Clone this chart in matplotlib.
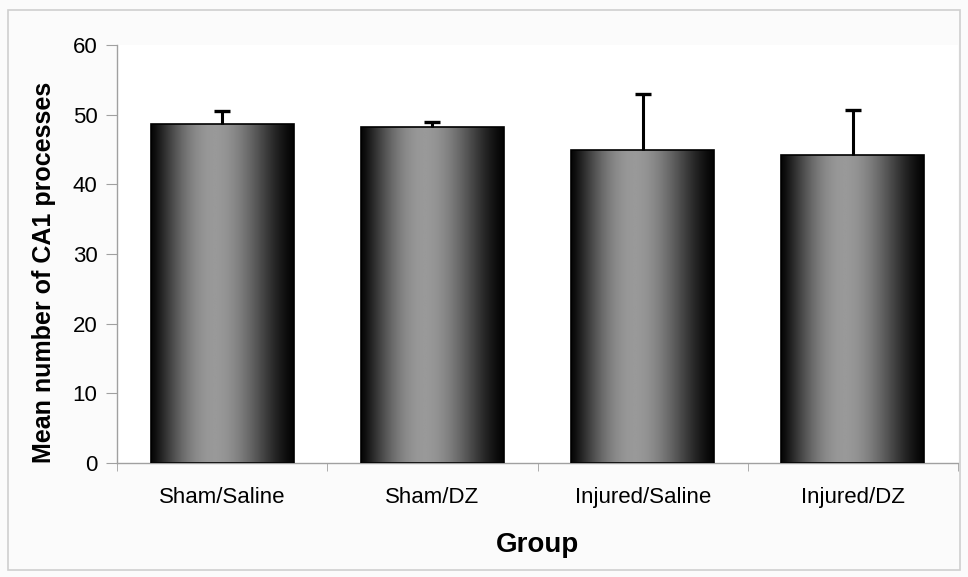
import numpy as np
import matplotlib
matplotlib.use("Agg")
import matplotlib.pyplot as plt
from matplotlib.patches import Rectangle
from matplotlib.ticker import FixedLocator

categories = ["Sham/Saline", "Sham/DZ", "Injured/Saline", "Injured/DZ"]
means = [48.7, 48.2, 45.0, 44.2]
errors = [1.8, 0.8, 7.9, 6.4]
yticks = [0, 10, 20, 30, 40, 50, 60]

plt.rcParams['font.family'] = ['Liberation Sans', 'DejaVu Sans']

fig = plt.figure(figsize=(9.68, 5.77), dpi=100)
fig.patch.set_facecolor('#fbfbfb')
# outer border
fig.add_artist(Rectangle((0.008, 0.012), 0.984, 0.970, transform=fig.transFigure,
                         fill=False, edgecolor='#cfcfcf', lw=1.2))

ax = fig.add_axes([0.1209, 0.1976, 0.8688, 0.7244])
ax.set_facecolor('white')
x = np.arange(len(categories))
width = 0.68

# gradient profile (dark edges, light center)
t = np.linspace(0, 1, 200)
prof = 0.02 + 0.58 * np.clip(np.sin(np.pi * (t ** 0.85)), 0, 1) ** 1.4
grad = np.tile(prof, (2, 1))

bars = ax.bar(x, means, width=width, color='none', edgecolor='black', linewidth=1.2, zorder=3)
for b in bars:
    x0, y0 = b.get_x(), b.get_y()
    w, h = b.get_width(), b.get_height()
    im = ax.imshow(grad, cmap='gray', vmin=0, vmax=1, aspect='auto',
                   extent=[x0, x0 + w, y0, y0 + h], interpolation='bicubic', zorder=2)
    im.set_clip_path(b)

tops = np.array(means) + np.array(errors)
ax.vlines(x, means, tops, colors='black', linewidth=2.2, zorder=4)
ax.plot(x, tops, linestyle='none', marker='_', markersize=11, markeredgewidth=2.4,
        color='black', zorder=4)

ax.set_xlim(-0.5, len(categories) - 0.5)
ax.set_ylim(0, 60)
ax.set_yticks(yticks)
ax.set_xticks(x)
ax.set_xticklabels(categories, fontsize=16)
ax.xaxis.set_minor_locator(FixedLocator(np.arange(-0.5, len(categories), 1.0)))
ax.tick_params(axis='x', which='major', length=0, pad=17)
ax.tick_params(axis='x', which='minor', length=6, color='#a0a0a0', direction='out')
ax.tick_params(axis='y', length=8, color='#a0a0a0', labelsize=16, pad=6)

for s in ['top', 'right']:
    ax.spines[s].set_visible(False)
for s in ['left', 'bottom']:
    ax.spines[s].set_color('#a0a0a0')
    ax.spines[s].set_linewidth(1.0)

ax.set_xlabel('Group', fontsize=20, fontweight='bold')
ax.xaxis.set_label_coords(0.5, -0.165)
ax.set_ylabel('Mean number of CA1 processes', fontsize=18, fontweight='bold')
ax.yaxis.set_label_coords(-0.073, 0.455)

fig.savefig('out.png', dpi=100, facecolor=fig.get_facecolor())
